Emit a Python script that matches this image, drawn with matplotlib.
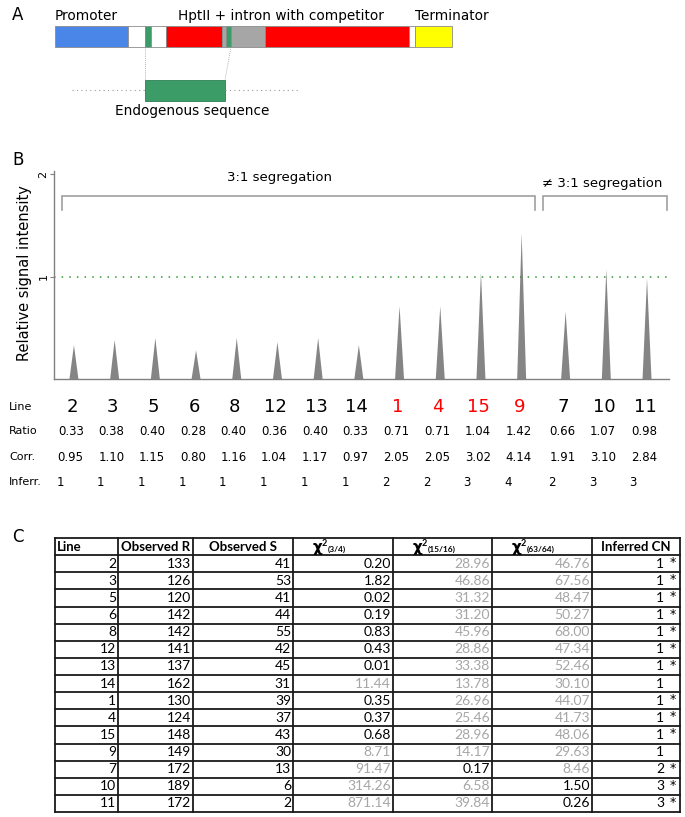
import matplotlib.pyplot as plt
import matplotlib.transforms as mtransforms
from matplotlib.patches import Rectangle
import numpy as np

# ---- panel B data ----
lines = ["2", "3", "5", "6", "8", "12", "13", "14", "1", "4", "15", "9", "7", "10", "11"]
ratio = [0.33, 0.38, 0.40, 0.28, 0.40, 0.36, 0.40, 0.33, 0.71, 0.71, 1.04, 1.42, 0.66, 1.07, 0.98]
corr = [0.95, 1.10, 1.15, 0.80, 1.16, 1.04, 1.17, 0.97, 2.05, 2.05, 3.02, 4.14, 1.91, 3.10, 2.84]
inferr = [1, 1, 1, 1, 1, 1, 1, 1, 2, 2, 3, 4, 2, 3, 3]
red_lines = ["1", "4", "15", "9"]
n_31 = 12  # first 12 lines show 3:1 segregation

# ---- panel C data ----
obs_r = [133, 126, 120, 142, 142, 141, 137, 162, 130, 124, 148, 149, 172, 189, 172]
obs_s = [41, 53, 41, 44, 55, 42, 45, 31, 39, 37, 43, 30, 13, 6, 2]
chi_34 = [0.20, 1.82, 0.02, 0.19, 0.83, 0.43, 0.01, 11.44, 0.35, 0.37, 0.68, 8.71, 91.47, 314.26, 871.14]
chi_1516 = [28.96, 46.86, 31.32, 31.20, 45.96, 28.86, 33.38, 13.78, 26.96, 25.46, 28.96, 14.17, 0.17, 6.58, 39.84]
chi_6364 = [46.76, 67.56, 48.47, 50.27, 68.00, 47.34, 52.46, 30.10, 44.07, 41.73, 48.06, 29.63, 8.46, 1.50, 0.26]
best_fit = [0, 0, 0, 0, 0, 0, 0, None, 0, 0, 0, None, 1, 2, 2]
inferred_cn = [1, 1, 1, 1, 1, 1, 1, 1, 1, 1, 1, 1, 2, 3, 3]
significant = [True] * 7 + [False] + [True] * 3 + [False] + [True] * 3

# ---- panel A construct (name, length, colour) ----
construct = [
    ("promoter", 73, "#4a86e8"),
    ("spacer", 17, "white"),
    ("endo", 6, "#3b9c68"),
    ("spacer", 15, "white"),
    ("hpt", 56, "#ff0000"),
    ("intron", 4, "#a6a6a6"),
    ("endo", 5, "#3b9c68"),
    ("intron", 34, "#a6a6a6"),
    ("hpt", 144, "#ff0000"),
    ("spacer", 6, "white"),
    ("terminator", 37, "#ffff00"),
]

GRAY_TXT = "#a6a6a6"

fig = plt.figure(figsize=(6.85, 8.17), dpi=100)
ax0 = fig.add_axes([0, 0, 1, 1])
ax0.set_xlim(0, 685)
ax0.set_ylim(817, 0)
ax0.axis("off")

# panel letters
for lab, x, y in [("A", 12, 15), ("B", 12, 160), ("C", 12, 537)]:
    ax0.text(x, y, lab, fontsize=12, ha="left", va="center")

# ---- panel A ----
x = 55
bar_top, bar_h = 26, 21
for name, w, col in construct:
    ax0.add_patch(Rectangle((x, bar_top), w, bar_h, facecolor=col,
                            edgecolor="#8c8c8c", lw=0.6))
    x += w
ax0.text(55, 16, "Promoter", fontsize=9.8, va="center")
ax0.text(178, 16, "HptII + intron with competitor", fontsize=9.8, va="center")
ax0.text(415, 16, "Terminator", fontsize=9.8, va="center")

ax0.add_patch(Rectangle((145, 80), 80, 21, facecolor="#3b9c68", edgecolor="#2e8055", lw=0.6))
ax0.plot([145, 145], [47, 80], color="#999999", ls=(0, (1, 1.5)), lw=0.6)
ax0.plot([231, 225], [47, 80], color="#999999", ls=(0, (1, 1.5)), lw=0.6)
ax0.plot([72, 145], [90, 90], color="#999999", ls=(0, (1, 3)), lw=0.8)
ax0.plot([225, 298], [90, 90], color="#999999", ls=(0, (1, 3)), lw=0.8)
ax0.text(115, 111, "Endogenous sequence", fontsize=9.8, va="center")

# ---- panel B ----
W, H = 685, 817
ax_l, ax_r, ax_b, ax_t = 54, 669, 379, 171
axb = fig.add_axes([ax_l / W, (H - ax_b) / H, (ax_r - ax_l) / W, (ax_b - ax_t) / H])
axb.patch.set_visible(False)

pos = np.arange(len(lines)) + 0.08 * (np.arange(len(lines)) >= n_31)
hw = 0.11
for p, h in zip(pos, ratio):
    axb.fill([p - hw, p, p + hw], [0, h, 0], color="#858585", lw=0)

axb.set_xlim(pos[0] - 0.49, pos[-1] + 0.54)
axb.set_ylim(0, 2.03)
axb.axhline(1, color="#2f9a2f", ls=(0, (1, 4)), lw=1.1)

for s in ["top", "right"]:
    axb.spines[s].set_visible(False)
for s in ["left", "bottom"]:
    axb.spines[s].set_color("#808080")
    axb.spines[s].set_linewidth(1.0)
axb.set_xticks([])
axb.set_yticks([1, 2])
axb.set_yticklabels(["1", "2"], rotation=90, va="center", fontsize=8)
axb.tick_params(axis="y", length=3, color="#808080", pad=1)
axb.set_ylabel("Relative signal intensity", fontsize=10.5)
axb.yaxis.set_label_coords(-0.036, 0.51)

# brackets
br_col = "#a0a0a0"
groups = [(pos[0] - 0.29, pos[n_31 - 1] + 0.33, 5.06, 1.97, "3:1 segregation"),
          (pos[n_31] - 0.56, pos[-1] + 0.48, 12.98, 1.91, "\u2260 3:1 segregation")]
for x0, x1, tx, ty, lab in groups:
    axb.plot([x0, x0, x1, x1], [1.65, 1.785, 1.785, 1.65], color=br_col, lw=1.2,
             clip_on=False, solid_joinstyle="miter")
    axb.text(tx, ty, lab, fontsize=9.5, ha="center", va="center")

# value rows under panel B
tr = mtransforms.blended_transform_factory(axb.transData, ax0.transData)
row_y = {"Line": 407, "Ratio": 431, "Corr.": 457, "Inferr.": 482}
for lab, y in row_y.items():
    ax0.text(9, y, lab, fontsize=8, va="center", ha="left")
for i, p in enumerate(pos):
    col = "#ff0000" if lines[i] in red_lines else "black"
    ax0.text(p - 0.05, row_y["Line"], lines[i], transform=tr, fontsize=13, color=col,
             ha="center", va="center")
    ax0.text(p - 0.08, row_y["Ratio"], f"{ratio[i]:.2f}", transform=tr, fontsize=8.5,
             ha="center", va="center")
    ax0.text(p - 0.08, row_y["Corr."], f"{corr[i]:.2f}", transform=tr, fontsize=8.5,
             ha="center", va="center")
    ax0.text(p - 0.34, row_y["Inferr."], str(inferr[i]), transform=tr, fontsize=8.5,
             ha="center", va="center")

# ---- panel C table ----
col_edges = [55, 118, 193, 293, 393, 492, 592, 680]
top = 538
rh = 17.125
n_rows = len(lines) + 1
bottom = top + rh * n_rows
tfont = "Lato"
fs = 10
lc = "#1a1a1a"
for k in range(n_rows + 1):
    y = top + k * rh
    ax0.plot([col_edges[0], col_edges[-1]], [y, y], color=lc, lw=1.3,
             solid_capstyle="projecting")
for xe in col_edges:
    ax0.plot([xe, xe], [top, bottom], color=lc, lw=1.3, solid_capstyle="projecting")

hy = top + rh / 2
ax0.text(57, hy, "Line", family=tfont, fontweight="bold", fontsize=9.5, va="center")
ax0.text(121, hy, "Observed R", family=tfont, fontweight="bold", fontsize=9.5, va="center")
ax0.text((col_edges[2] + col_edges[3]) / 2, hy, "Observed S", family=tfont,
         fontweight="bold", fontsize=9.5, va="center", ha="center")
ax0.text((col_edges[6] + col_edges[7]) / 2, hy, "Inferred CN", family=tfont,
         fontweight="bold", fontsize=9.5, va="center", ha="center")
for j, sub in zip([3, 4, 5], ["(3/4)", "(15/16)", "(63/64)"]):
    x0 = col_edges[j] + 20
    ax0.text(x0, hy + 1, "\u03c7", family="DejaVu Sans", fontweight="bold",
             fontsize=11, va="center")
    ax0.text(x0 + 9, hy - 3, "2", family=tfont, fontweight="bold", fontsize=6.5, va="center")
    ax0.text(x0 + 15, hy + 3, sub, family=tfont, fontweight="bold", fontsize=6, va="center")

chis = [chi_34, chi_1516, chi_6364]
for i in range(len(lines)):
    y = top + (i + 1) * rh + rh / 2
    ax0.text(col_edges[1] - 2, y, lines[i], family=tfont, fontsize=fs, ha="right", va="center")
    ax0.text(col_edges[2] - 2, y, str(obs_r[i]), family=tfont, fontsize=fs, ha="right", va="center")
    ax0.text(col_edges[3] - 2, y, str(obs_s[i]), family=tfont, fontsize=fs, ha="right", va="center")
    for j, vals in enumerate(chis):
        c = "black" if best_fit[i] == j else GRAY_TXT
        ax0.text(col_edges[4 + j] - 2, y, f"{vals[i]:.2f}", family=tfont, fontsize=fs,
                 color=c, ha="right", va="center")
    ax0.text(664, y, str(inferred_cn[i]), family=tfont, fontsize=fs, ha="right", va="center")
    if significant[i]:
        ax0.text(673, y - 1, "*", family="DejaVu Sans", fontsize=9, ha="center", va="center")

fig.savefig("out.png", dpi=100)
